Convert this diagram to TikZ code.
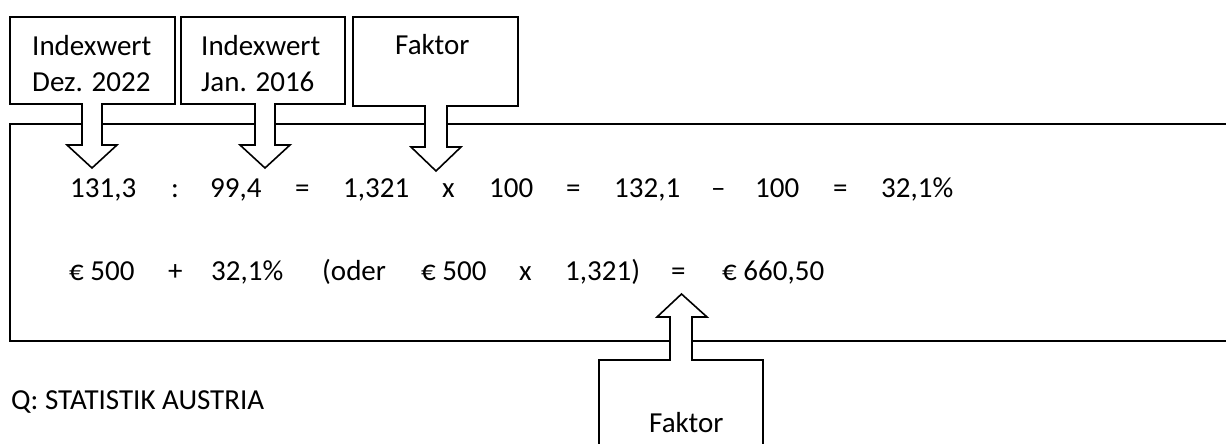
\documentclass[tikz,border=0pt]{standalone}
\usepackage{fontspec}
\setmainfont{Carlito}
\begin{document}
\begin{tikzpicture}[x=1pt,y=-1pt,
  line/.style={draw=black,line width=1.6pt,line join=miter},
  callout/.style={line,fill=white},
  txt/.style={anchor=base west,inner sep=0pt,font=\fontsize{29}{34}\selectfont}]
\useasboundingbox (0,0) rectangle (1226,444);
\fill[white] (0,0) rectangle (1226,444);
% main frame (open to the right)
\draw[line] (1227,124) -- (10,124) -- (10,341) -- (1227,341);
% callouts from top
\draw[callout] (10,17) -- (175,17) -- (175,104) -- (102,104) -- (102,145) -- (117,145) -- (92,168) -- (67,145) -- (82,145) -- (82,104) -- (10,104) -- cycle;
\draw[callout] (181,17) -- (345,17) -- (345,104) -- (275,104) -- (275,145) -- (290,145) -- (265,168) -- (240,145) -- (255,145) -- (255,104) -- (181,104) -- cycle;
\draw[callout] (353,17) -- (518,17) -- (518,106) -- (447,106) -- (447,147) -- (461,147) -- (436,171) -- (411,147) -- (425,147) -- (425,106) -- (353,106) -- cycle;
% callout from bottom
\draw[callout] (599,460) -- (599,360) -- (670,360) -- (670,317) -- (657,317) -- (681.5,294) -- (707,317) -- (692,317) -- (692,360) -- (763,360) -- (763,460);
% box texts
\node[txt] (b1a) at (32,56) {Indexwert};
\node[txt] (b1b) at (32,92) {Dez. 2022};
\node[txt] (b2a) at (201,56) {Indexwert};
\node[txt] (b2b) at (201,92) {Jan. 2016};
\node[txt] (b3) at (395,55) {Faktor};
\node[txt] (b4) at (649,432) {Faktor};
% row 1
\node[txt] (r1a) at (70,197) {131,3};
\node[txt] (r1b) at (171,197) {:};
\node[txt] (r1c) at (210,197) {99,4};
\node[txt] (r1d) at (295,197) {=};
\node[txt] (r1e) at (343,197) {1,321};
\node[txt] (r1f) at (442,197) {x};
\node[txt] (r1g) at (489,197) {100};
\node[txt] (r1h) at (566,197) {=};
\node[txt] (r1i) at (614,197) {132,1};
\node[txt] (r1j) at (711,197) {–};
\node[txt] (r1k) at (755,197) {100};
\node[txt] (r1l) at (833,197) {=};
\node[txt] (r1m) at (881,197) {32,1\%};
% row 2
\node[txt] (r2a) at (69,280) {€ 500};
\node[txt] (r2b) at (168,280) {+};
\node[txt] (r2c) at (211,280) {32,1\%};
\node[txt] (r2d) at (322,280) {(oder};
\node[txt] (r2e) at (421,280) {€ 500};
\node[txt] (r2f) at (519,280) {x};
\node[txt] (r2g) at (565,280) {1,321)};
\node[txt] (r2h) at (671,280) {=};
\node[txt] (r2i) at (722,280) {€ 660,50};
% source
\node[txt] (src) at (11,409) {Q: STATISTIK AUSTRIA};
\end{tikzpicture}
\end{document}
